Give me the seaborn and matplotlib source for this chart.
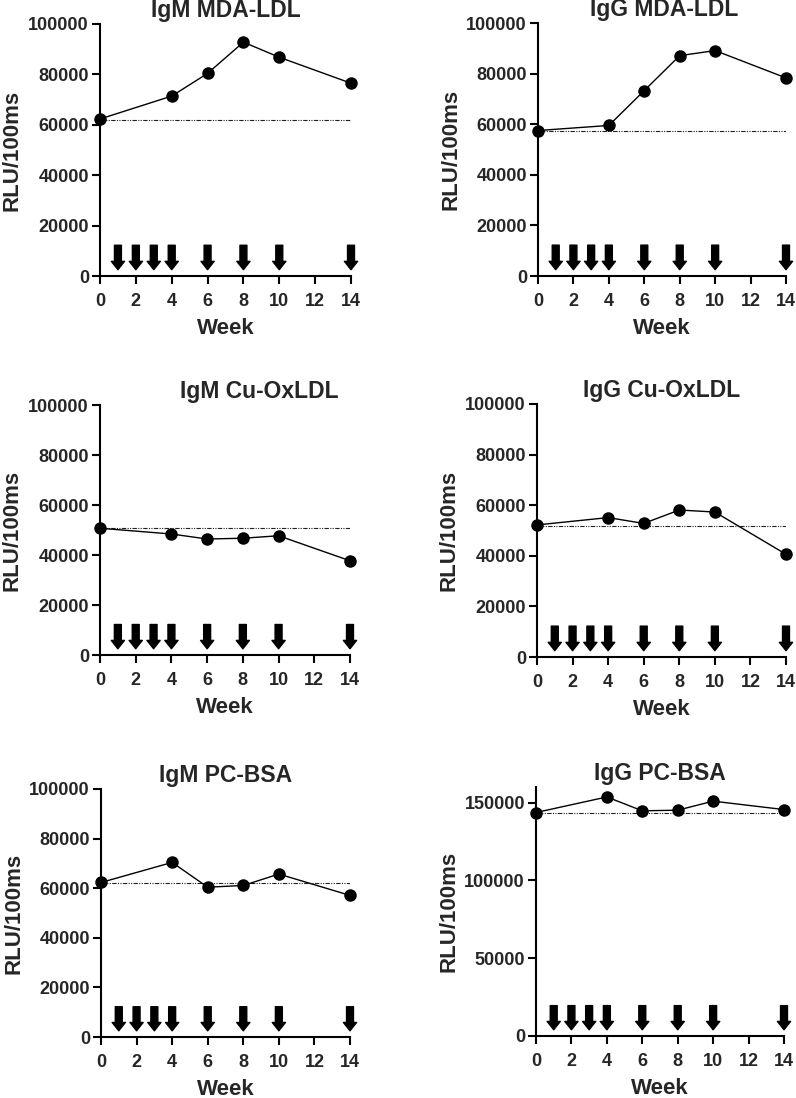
import numpy as np
import matplotlib
matplotlib.use('Agg')
import matplotlib.pyplot as plt
import seaborn as sns

# data
weeks = [0, 4, 6, 8, 10, 14]
igm_mda = [62300, 71400, 80400, 92800, 86800, 76500]
igg_mda = [57500, 59500, 73300, 87100, 89100, 78300]
igm_cu = [50700, 48400, 46400, 46700, 47700, 37700]
igg_cu = [52200, 55100, 52800, 58100, 57300, 40600]
igm_pc = [62300, 70400, 60400, 61100, 65700, 57100]
igg_pc = [143600, 153600, 144700, 145100, 150900, 145500]
baselines = [62000, 57500, 50800, 51900, 61900, 143500]
titles = ['IgM MDA-LDL', 'IgG MDA-LDL', 'IgM Cu-OxLDL', 'IgG Cu-OxLDL',
          'IgM PC-BSA', 'IgG PC-BSA']
arrow_weeks = [1, 2, 3, 4, 6, 8, 10, 14]
xticks = [0, 2, 4, 6, 8, 10, 12, 14]
yticks_std = [0, 20000, 40000, 60000, 80000, 100000]
yticks_pc = [0, 50000, 100000, 150000]

series = [igm_mda, igg_mda, igm_cu, igg_cu, igm_pc, igg_pc]
ylims = [100000, 100000, 100000, 100000, 100000, 160000]
ytick_sets = [yticks_std] * 5 + [yticks_pc]

sns.set_theme(style='ticks')
plt.rcParams['font.family'] = ['Liberation Sans', 'DejaVu Sans']
plt.rcParams['font.weight'] = 'bold'
plt.rcParams['axes.labelweight'] = 'bold'
plt.rcParams['axes.titleweight'] = 'bold'

W, H = 796, 1098
fig = plt.figure(figsize=(W / 100, H / 100), dpi=100)

# axes boxes in pixels: left, right, top, bottom
boxes = [(100, 351, 24, 276), (538, 786, 23, 276),
         (100, 350, 405, 655), (537, 786, 404, 657),
         (101, 350, 789, 1037), (536, 784, 787, 1036)]
title_x = [0.5, 0.51, 0.636, 0.5, 0.5, 0.5]

for i, (l, r, t, b) in enumerate(boxes):
    ax = fig.add_axes([l / W, 1 - b / H, (r - l) / W, (b - t) / H])
    sns.lineplot(x=weeks, y=series[i], ax=ax, color='black', lw=1,
                 marker='o', markersize=9, markeredgecolor='black',
                 markeredgewidth=0, clip_on=False, zorder=5)
    ax.hlines(baselines[i], weeks[0], weeks[-1], color='#222222', lw=0.8,
              linestyles=[(0, (4, 1.2, 1, 1.2, 1, 1.2))], zorder=3)
    for w in arrow_weeks:
        ax.annotate('', xy=(w, 0.025), xytext=(w, 0.122),
                    xycoords=('data', 'axes fraction'),
                    textcoords=('data', 'axes fraction'),
                    arrowprops=dict(arrowstyle='simple,head_length=0.6,head_width=0.95,tail_width=0.5',
                                    mutation_scale=10, color='black',
                                    shrinkA=0, shrinkB=0), annotation_clip=False)
    ax.set_xlim(0, 14)
    ax.set_ylim(0, ylims[i])
    ax.set_xticks(xticks)
    ax.set_yticks(ytick_sets[i])
    ax.set_xticklabels([str(v) for v in xticks], fontsize=13, fontweight='bold')
    ax.set_yticklabels([str(v) for v in ytick_sets[i]], fontsize=13, fontweight='bold')
    ax.tick_params(axis='both', direction='out', length=6, width=1.5, color='black')
    ax.tick_params(axis='y', pad=2)
    ax.tick_params(axis='x', pad=6)
    for s in ['left', 'bottom']:
        ax.spines[s].set_linewidth(1.5)
        ax.spines[s].set_color('black')
    sns.despine(ax=ax)
    ax.set_xlabel('Week', fontsize=16, fontweight='bold', labelpad=6)
    ax.set_ylabel('RLU/100ms', fontsize=16, fontweight='bold')
    ax.yaxis.set_label_coords(-77 / (r - l), 0.5)
    ax.set_title(titles[i], fontsize=16.5, fontweight='bold', x=title_x[i], pad=5)

fig.savefig('out.png', dpi=100, facecolor='white')
